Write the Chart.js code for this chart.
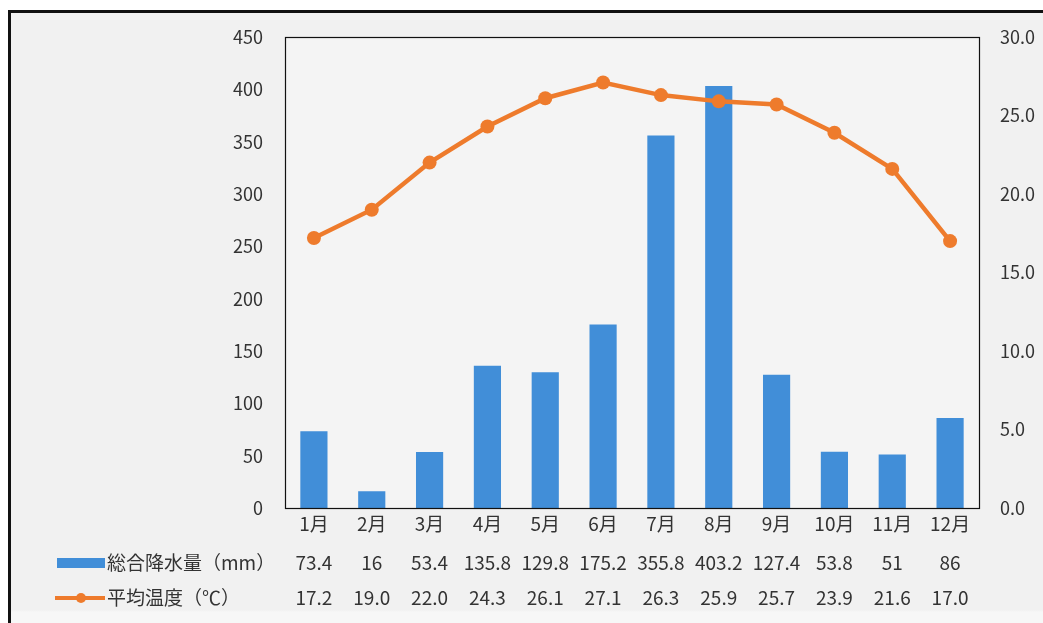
<!DOCTYPE html>
<html lang="ja">
<head>
<meta charset="UTF-8">
<title>総合降水量と平均温度</title>
<script src="https://cdn.jsdelivr.net/npm/chart.js"></script>
<style>
  body { margin: 0; background: #fff; }
  #frame {
    position: absolute; left: 8px; top: 10px; width: 1100px; height: 700px;
    border-left: 3px solid #111; border-top: 3px solid #111;
    background: linear-gradient(#f1f1f1 0, #f1f1f1 597px, #f7f7f7 599px);
  }
  #chart { position: absolute; left: 0; top: 0; }
</style>
</head>
<body>
<div id="frame"></div>
<canvas id="chart" width="1043" height="623"></canvas>
<script>
  // data
  const months = ['1月','2月','3月','4月','5月','6月','7月','8月','9月','10月','11月','12月'];
  const rainfall = [73.4, 16, 53.4, 135.8, 129.8, 175.2, 355.8, 403.2, 127.4, 53.8, 51, 86];
  const avgTemp = [17.2, 19.0, 22.0, 24.3, 26.1, 27.1, 26.3, 25.9, 25.7, 23.9, 21.6, 17.0];
  const rainLabel = '総合降水量（mm）';
  const tempLabel = '平均温度（℃）';

  const BLUE = '#418ed8';
  const ORANGE = '#ee7b2c';
  const TEXT = '#333333';
  const FONT = '"Noto Sans CJK JP", "Noto Sans", sans-serif';

  // plot border + data table under the axis
  const tablePlugin = {
    id: 'dataTable',
    beforeDraw(chart) {
      const a = chart.chartArea;
      chart.ctx.fillStyle = '#f4f4f4';
      chart.ctx.fillRect(a.left, a.top, a.right - a.left, a.bottom - a.top);
    },
    afterDraw(chart) {
      const ctx = chart.ctx;
      const a = chart.chartArea;
      const x = chart.scales.x;
      ctx.save();
      ctx.strokeStyle = '#111';
      ctx.lineWidth = 1.2;
      ctx.strokeRect(a.left + 0.5, a.top + 0.5, a.right - a.left, a.bottom - a.top);

      const row1 = 563, row2 = 598;
      ctx.font = '19px ' + FONT;
      ctx.fillStyle = TEXT;
      ctx.textBaseline = 'middle';
      ctx.textAlign = 'center';
      rainfall.forEach((v, i) => ctx.fillText(String(v), x.getPixelForValue(i), row1));
      avgTemp.forEach((v, i) => ctx.fillText(v.toFixed(1), x.getPixelForValue(i), row2));

      // legend keys
      ctx.fillStyle = BLUE;
      ctx.fillRect(57, row1 - 5, 48, 10);
      ctx.strokeStyle = ORANGE;
      ctx.lineWidth = 4;
      ctx.beginPath();
      ctx.moveTo(55, row2);
      ctx.lineTo(105, row2);
      ctx.stroke();
      ctx.fillStyle = ORANGE;
      ctx.beginPath();
      ctx.arc(81, row2, 5, 0, Math.PI * 2);
      ctx.fill();

      ctx.fillStyle = TEXT;
      ctx.textAlign = 'left';
      ctx.fillText(rainLabel, 107, row1);
      ctx.fillText(tempLabel, 107, row2);
      ctx.restore();
    }
  };

  new Chart(document.getElementById('chart'), {
    data: {
      labels: months,
      datasets: [
        {
          type: 'line',
          label: tempLabel,
          data: avgTemp,
          yAxisID: 'y2',
          borderColor: ORANGE,
          backgroundColor: ORANGE,
          borderWidth: 4.5,
          pointRadius: 7,
          pointBorderWidth: 0,
          pointBackgroundColor: ORANGE,
          tension: 0,
          order: 0
        },
        {
          type: 'bar',
          label: rainLabel,
          data: rainfall,
          yAxisID: 'y',
          backgroundColor: BLUE,
          categoryPercentage: 1,
          barPercentage: 0.47,
          order: 1
        }
      ]
    },
    options: {
      responsive: false,
      animation: false,
      layout: { padding: { top: 37, bottom: 85, left: 0, right: 0 } },
      plugins: { legend: { display: false }, tooltip: { enabled: false } },
      scales: {
        x: {
          grid: { display: false, drawTicks: false },
          border: { display: false },
          ticks: { font: { family: FONT, size: 19 }, color: TEXT, padding: 4, maxRotation: 0 },
          afterFit(s) { s.height = 30; }
        },
        y: {
          position: 'left',
          min: 0, max: 450,
          grid: { display: false, drawTicks: false },
          border: { display: false },
          ticks: { stepSize: 50, font: { family: FONT, size: 18 }, color: TEXT, padding: 22 },
          afterFit(s) { s.width = 285; }
        },
        y2: {
          position: 'right',
          min: 0, max: 30,
          grid: { display: false, drawTicks: false },
          border: { display: false },
          ticks: {
            stepSize: 5, font: { family: FONT, size: 18 }, color: TEXT, padding: 21,
            callback: v => Number(v).toFixed(1)
          },
          afterFit(s) { s.width = 64; }
        }
      }
    },
    plugins: [tablePlugin]
  });
</script>
</body>
</html>
